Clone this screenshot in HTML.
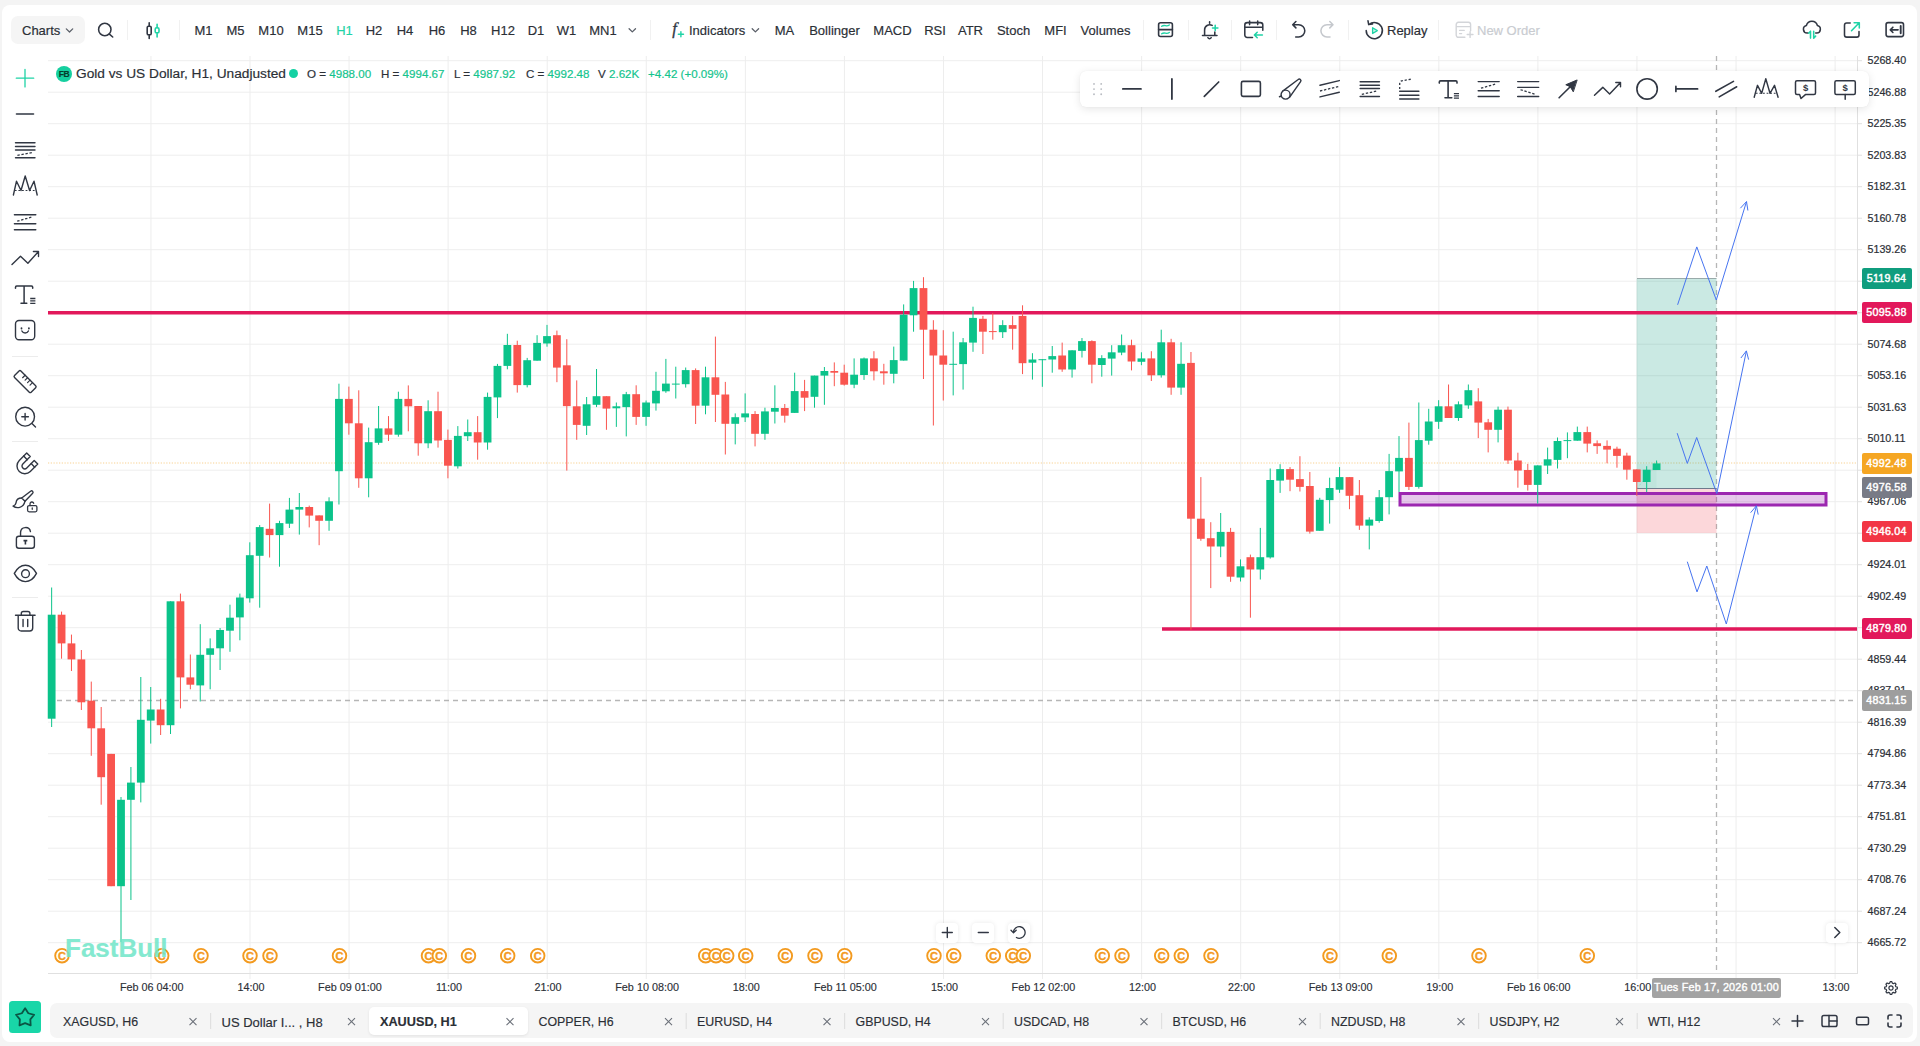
<!DOCTYPE html>
<html lang="en"><head><meta charset="utf-8"><title>Gold vs US Dollar, H1 - Charts</title>
<style>
html,body{margin:0;padding:0}
body{width:1920px;height:1046px;overflow:hidden;position:relative;background:#f4f4f4;font-family:"Liberation Sans",sans-serif;color:#2b2f36}
#app{position:absolute;left:1.7px;top:4.7px;width:1915.3px;height:1037.1px;background:#fff;border-radius:8px}
.t{position:absolute;white-space:nowrap;line-height:1;-webkit-text-stroke:.18px}
.c{transform:translateX(-50%)}
.tf{font-size:13px;top:24px;color:#2b2f36}
.sep{position:absolute;width:1px;background:#f1f1f1;top:20px;height:19.5px}
.ax{-webkit-text-stroke:.2px;position:absolute;left:1867.5px;font-size:10.7px;line-height:1;color:#2b2f36;white-space:nowrap}
.tag{position:absolute;left:1861.5px;width:50px;height:21px;border-radius:2px;color:#fff;font-size:10.7px;line-height:21px;text-align:center;font-weight:normal;-webkit-text-stroke:.45px #fff;letter-spacing:.25px}
.tm{-webkit-text-stroke:.15px;position:absolute;top:981.7px;font-size:10.8px;line-height:1;color:#2b2f36;white-space:nowrap;transform:translateX(-50%)}
.tab{-webkit-text-stroke:.15px;position:absolute;top:1015.7px;font-size:13px;line-height:1;color:#2b2f36;white-space:nowrap}
.btn{position:absolute;width:22px;height:20px;background:#fff;border-radius:4px;box-shadow:0 0 5px rgba(0,0,0,.09)}
svg{position:absolute;left:0;top:0;overflow:visible}
</style></head><body>
<div id="app"></div>

<svg id="chart" width="1920" height="1046" viewBox="0 0 1920 1046">
<path d="M48 60.70H1857M48 92.20H1857M48 123.70H1857M48 155.20H1857M48 186.70H1857M48 218.20H1857M48 249.70H1857M48 281.20H1857M48 312.70H1857M48 344.20H1857M48 375.70H1857M48 407.20H1857M48 438.70H1857M48 470.20H1857M48 501.70H1857M48 533.20H1857M48 564.70H1857M48 596.20H1857M48 627.70H1857M48 659.20H1857M48 690.70H1857M48 722.20H1857M48 753.70H1857M48 785.20H1857M48 816.70H1857M48 848.20H1857M48 879.70H1857M48 911.20H1857M48 942.70H1857" stroke="#eeeeee" stroke-width="1" fill="none"/>
<path d="M150.93 56V979M250.00 56V979M349.07 56V979M448.14 56V979M547.21 56V979M646.28 56V979M745.35 56V979M844.42 56V979M943.49 56V979M1042.56 56V979M1141.63 56V979M1240.70 56V979M1339.77 56V979M1438.84 56V979M1537.91 56V979M1636.98 56V979M1736.05 56V979M1835.12 56V979" stroke="#ededed" stroke-width="1" fill="none"/>
<path d="M48 973.5H1858M1857.5 56V973" stroke="#e0e0e0" stroke-width="1" fill="none"/>
<path d="M1858 60.70h4M1858 92.20h4M1858 123.70h4M1858 155.20h4M1858 186.70h4M1858 218.20h4M1858 249.70h4M1858 281.20h4M1858 312.70h4M1858 344.20h4M1858 375.70h4M1858 407.20h4M1858 438.70h4M1858 470.20h4M1858 501.70h4M1858 533.20h4M1858 564.70h4M1858 596.20h4M1858 627.70h4M1858 659.20h4M1858 690.70h4M1858 722.20h4M1858 753.70h4M1858 785.20h4M1858 816.70h4M1858 848.20h4M1858 879.70h4M1858 911.20h4M1858 942.70h4" stroke="#e0e0e0" stroke-width="1" fill="none"/>
<path d="M48 463H1857" stroke="#f5a623" stroke-width="1.2" stroke-dasharray="1.2 1.55" fill="none" opacity=".5"/>
<path d="M48 700.5H1857" stroke="#b6b6b6" stroke-width="1.3" stroke-dasharray="5 4" fill="none"/>
<path d="M1716.5 56V973" stroke="#b6b6b6" stroke-width="1.3" stroke-dasharray="5 4" fill="none"/>
<rect x="1636.7" y="278.5" width="79.8" height="210" fill="#0f9d7e" fill-opacity=".22"/>
<rect x="1636.7" y="488.5" width="79.8" height="44.5" fill="#f23645" fill-opacity=".2"/>
<rect x="1637" y="464" width="19.5" height="24.5" fill="#0f9d7e" fill-opacity=".05"/>
<path d="M1637 278.5H1716.5" stroke="#9aa" stroke-width="1" fill="none"/>
<path d="M1637 488.5H1716.5" stroke="#6d7a8c" stroke-width="1" fill="none"/>
<path d="M1637 488.5L1656.5 464" stroke="#8cc" stroke-width="1" fill="none" stroke-dasharray="2 2" opacity=".6"/>
<path d="M48 312.7H1857" stroke="#e2185b" stroke-width="3.6" fill="none"/>
<path d="M1162 629H1857" stroke="#e2185b" stroke-width="3.6" fill="none"/>
<rect x="1400" y="493.5" width="426" height="11.5" fill="#9c27b0" fill-opacity=".25" stroke="#9c27b0" stroke-width="3"/>
<path d="M51.65 587.5V727.0M121.00 797.0V942.0M130.91 767.0V900.0M140.81 677.0V802.4M150.72 687.0V743.6M170.53 601.3V734.0M200.25 624.2V701.5M210.16 638.4V689.3M220.07 628.0V670.0M229.98 604.7V651.8M239.88 593.6V640.3M249.79 542.3V602.6M259.70 525.1V607.7M279.51 520.8V566.7M289.42 497.9V528.0M299.32 493.0V534.6M329.05 497.3V530.8M338.95 383.7V504.5M368.67 427.6V497.3M378.58 406.0V444.8M398.39 391.7V436.7M428.12 400.3V448.2M457.84 426.1V468.6M467.74 419.5V441.0M487.56 392.6V449.7M497.46 363.9V418.1M507.37 333.8V369.3M527.19 357.9V387.4M537.09 335.2V360.7M547.00 324.9V346.7M586.63 397.0V435.0M596.53 369.0V407.1M616.35 402.5V426.9M626.26 391.9V436.4M646.07 400.5V425.8M655.98 371.8V410.6M665.88 358.9V392.8M675.79 366.7V398.5M685.70 367.5V387.6M705.51 366.7V414.3M735.23 413.4V444.4M745.14 393.4V422.0M764.95 407.7V439.8M774.86 385.3V423.5M794.67 372.7V412.9M814.49 375.6V407.7M824.40 367.0V404.8M854.12 358.4V388.2M864.02 357.5V379.9M893.75 346.6V383.3M903.65 304.4V360.6M913.56 280.9V331.7M953.19 331.7V395.4M963.09 338.0V389.6M973.00 306.7V351.8M1002.72 320.2V338.0M1032.44 353.2V379.6M1042.35 359.2V386.8M1052.26 346.0V372.7M1072.07 350.3V377.6M1081.98 338.0V357.5M1101.79 355.2V376.7M1111.70 345.2V375.6M1121.61 334.5V355.2M1141.42 352.3V365.2M1161.23 329.7V377.6M1181.05 342.3V394.8M1220.68 513.0V557.2M1240.49 559.4V581.5M1260.30 527.9V579.5M1270.21 468.5V558.6M1280.12 464.2V492.9M1319.75 497.8V530.8M1329.65 477.7V523.6M1339.56 467.1V492.9M1369.28 517.3V549.4M1379.19 490.0V522.7M1389.10 453.9V514.4M1399.00 436.1V492.0M1418.82 402.5V488.6M1428.72 408.8V444.7M1438.63 400.2V428.9M1458.44 401.4V420.9M1468.35 384.5V408.8M1498.07 406.6V442.4M1537.70 465.4V503.5M1547.61 447.6V474.0M1557.51 437.5V468.5M1567.42 432.4V458.2M1577.33 426.6V440.7M1646.68 466.2V492.0M1656.58 460.5V470.0" stroke="#0bc38a" stroke-width="1" fill="none"/>
<path d="M61.56 611.6V658.7M71.46 634.6V671.0M81.37 650.0V710.0M91.28 681.6V755.8M101.19 707.0V804.7M111.09 753.9V886.2M160.63 698.8V735.0M180.44 593.6V708.4M190.35 654.5V689.3M269.60 503.6V557.5M309.23 505.6V527.4M319.14 515.4V545.2M348.86 386.6V434.7M358.77 390.3V487.8M388.49 416.1V441.0M408.30 385.4V431.3M418.21 406.0V455.7M438.02 391.7V447.6M447.93 429.6V478.3M477.65 416.1V459.7M517.28 340.7V392.6M556.91 330.6V382.2M566.81 339.2V470.6M576.72 380.4V439.8M606.44 396.2V429.8M636.16 385.3V424.9M695.61 368.4V424.0M715.42 336.6V422.0M725.33 381.9V454.5M755.05 411.1V446.4M784.77 404.0V422.6M804.58 379.9V411.1M834.30 362.4V386.2M844.21 364.7V385.6M873.93 351.2V380.4M883.84 363.8V384.7M923.47 277.2V379.0M933.37 320.2V425.5M943.28 330.2V400.5M982.91 315.9V354.0M992.81 313.0V339.7M1012.63 315.9V349.7M1022.54 305.3V374.1M1062.16 342.6V371.8M1091.88 340.3V383.3M1131.51 339.7V370.4M1151.33 351.2V381.0M1171.14 338.8V394.8M1190.96 352.0V629.7M1200.86 477.1V540.8M1210.77 522.2V588.1M1230.58 527.9V581.8M1250.40 554.6V617.7M1290.03 467.1V491.2M1299.93 456.2V491.5M1309.84 472.0V533.6M1349.47 477.1V509.2M1359.37 480.0V529.9M1408.91 422.6V490.0M1448.54 384.5V418.0M1478.26 388.2V438.1M1488.17 418.9V452.4M1507.98 406.6V463.9M1517.89 452.7V487.7M1527.79 463.9V490.6M1587.24 426.6V452.4M1597.14 440.4V453.9M1607.05 440.4V463.3M1616.96 446.7V467.7M1626.86 452.7V479.7M1636.77 469.4V495.8" stroke="#f9554f" stroke-width="1" fill="none"/>
<g fill="#0bc38a"><rect x="47.75" y="614.7" width="7.8" height="104.0"/><rect x="117.10" y="799.8" width="7.8" height="86.4"/><rect x="127.01" y="782.6" width="7.8" height="17.2"/><rect x="136.91" y="719.8" width="7.8" height="62.8"/><rect x="146.82" y="709.5" width="7.8" height="11.1"/><rect x="166.63" y="601.3" width="7.8" height="123.9"/><rect x="196.35" y="654.8" width="7.8" height="30.6"/><rect x="206.26" y="648.3" width="7.8" height="6.5"/><rect x="216.17" y="630.0" width="7.8" height="18.3"/><rect x="226.08" y="617.7" width="7.8" height="13.0"/><rect x="235.98" y="597.5" width="7.8" height="19.9"/><rect x="245.89" y="555.2" width="7.8" height="43.1"/><rect x="255.80" y="527.1" width="7.8" height="28.7"/><rect x="275.61" y="523.1" width="7.8" height="12.0"/><rect x="285.52" y="509.6" width="7.8" height="14.1"/><rect x="295.43" y="507.0" width="7.8" height="2.6"/><rect x="325.15" y="501.3" width="7.8" height="19.5"/><rect x="335.05" y="398.9" width="7.8" height="72.3"/><rect x="364.77" y="442.2" width="7.8" height="36.1"/><rect x="374.68" y="428.4" width="7.8" height="14.4"/><rect x="394.50" y="398.9" width="7.8" height="35.8"/><rect x="424.22" y="411.2" width="7.8" height="32.1"/><rect x="453.94" y="435.9" width="7.8" height="30.4"/><rect x="463.84" y="432.2" width="7.8" height="4.0"/><rect x="483.66" y="396.9" width="7.8" height="45.6"/><rect x="493.56" y="365.9" width="7.8" height="31.5"/><rect x="503.47" y="345.0" width="7.8" height="20.9"/><rect x="523.29" y="360.2" width="7.8" height="24.9"/><rect x="533.19" y="342.9" width="7.8" height="17.8"/><rect x="543.10" y="336.1" width="7.8" height="7.4"/><rect x="582.73" y="404.3" width="7.8" height="21.5"/><rect x="592.63" y="396.2" width="7.8" height="8.6"/><rect x="612.45" y="406.3" width="7.8" height="2.0"/><rect x="622.36" y="394.2" width="7.8" height="12.9"/><rect x="642.17" y="402.5" width="7.8" height="14.4"/><rect x="652.08" y="390.8" width="7.8" height="12.6"/><rect x="661.98" y="383.6" width="7.8" height="7.7"/><rect x="671.89" y="383.6" width="7.8" height="1.0"/><rect x="681.80" y="370.1" width="7.8" height="14.1"/><rect x="701.61" y="377.3" width="7.8" height="28.4"/><rect x="731.33" y="417.2" width="7.8" height="6.6"/><rect x="741.24" y="413.4" width="7.8" height="4.0"/><rect x="761.05" y="411.4" width="7.8" height="22.4"/><rect x="770.96" y="408.0" width="7.8" height="3.7"/><rect x="790.77" y="391.1" width="7.8" height="21.8"/><rect x="810.59" y="375.6" width="7.8" height="21.2"/><rect x="820.50" y="371.0" width="7.8" height="4.6"/><rect x="850.22" y="374.7" width="7.8" height="10.0"/><rect x="860.12" y="358.4" width="7.8" height="16.6"/><rect x="889.85" y="360.1" width="7.8" height="13.7"/><rect x="899.75" y="314.7" width="7.8" height="45.9"/><rect x="909.66" y="288.1" width="7.8" height="27.2"/><rect x="949.29" y="363.8" width="7.8" height="1.0"/><rect x="959.19" y="342.3" width="7.8" height="21.8"/><rect x="969.10" y="317.9" width="7.8" height="24.7"/><rect x="998.82" y="325.1" width="7.8" height="7.1"/><rect x="1028.54" y="359.5" width="7.8" height="3.2"/><rect x="1038.45" y="359.2" width="7.8" height="1.0"/><rect x="1048.36" y="356.1" width="7.8" height="3.4"/><rect x="1068.17" y="350.3" width="7.8" height="19.2"/><rect x="1078.08" y="341.1" width="7.8" height="9.8"/><rect x="1097.89" y="358.1" width="7.8" height="6.9"/><rect x="1107.80" y="352.3" width="7.8" height="6.3"/><rect x="1117.71" y="345.2" width="7.8" height="7.4"/><rect x="1137.52" y="358.4" width="7.8" height="3.4"/><rect x="1157.33" y="342.3" width="7.8" height="33.0"/><rect x="1177.15" y="363.8" width="7.8" height="23.8"/><rect x="1216.78" y="531.9" width="7.8" height="14.6"/><rect x="1236.59" y="566.3" width="7.8" height="11.2"/><rect x="1256.40" y="557.2" width="7.8" height="12.3"/><rect x="1266.31" y="480.0" width="7.8" height="77.4"/><rect x="1276.22" y="469.1" width="7.8" height="11.5"/><rect x="1315.85" y="499.8" width="7.8" height="31.0"/><rect x="1325.75" y="488.0" width="7.8" height="12.1"/><rect x="1335.66" y="477.1" width="7.8" height="12.6"/><rect x="1365.38" y="519.6" width="7.8" height="6.0"/><rect x="1375.29" y="497.2" width="7.8" height="23.8"/><rect x="1385.19" y="471.1" width="7.8" height="26.1"/><rect x="1395.10" y="457.9" width="7.8" height="13.5"/><rect x="1414.92" y="440.1" width="7.8" height="46.8"/><rect x="1424.82" y="421.5" width="7.8" height="19.2"/><rect x="1434.73" y="406.3" width="7.8" height="15.5"/><rect x="1454.54" y="404.3" width="7.8" height="13.7"/><rect x="1464.45" y="390.2" width="7.8" height="15.2"/><rect x="1494.17" y="409.7" width="7.8" height="20.1"/><rect x="1533.80" y="465.4" width="7.8" height="19.5"/><rect x="1543.71" y="459.3" width="7.8" height="6.3"/><rect x="1553.61" y="441.0" width="7.8" height="18.9"/><rect x="1563.52" y="440.1" width="7.8" height="1.0"/><rect x="1573.43" y="432.1" width="7.8" height="8.6"/><rect x="1642.78" y="469.7" width="7.8" height="12.3"/><rect x="1652.68" y="463.4" width="7.8" height="6.6"/></g>
<g fill="#f9554f"><rect x="57.66" y="614.7" width="7.8" height="28.7"/><rect x="67.56" y="643.4" width="7.8" height="16.0"/><rect x="77.47" y="659.4" width="7.8" height="42.9"/><rect x="87.38" y="700.7" width="7.8" height="27.6"/><rect x="97.28" y="728.3" width="7.8" height="48.9"/><rect x="107.19" y="753.9" width="7.8" height="132.3"/><rect x="156.73" y="709.5" width="7.8" height="15.7"/><rect x="176.54" y="601.3" width="7.8" height="76.1"/><rect x="186.45" y="677.4" width="7.8" height="7.3"/><rect x="265.70" y="528.8" width="7.8" height="6.3"/><rect x="305.33" y="507.0" width="7.8" height="8.6"/><rect x="315.24" y="515.4" width="7.8" height="5.4"/><rect x="344.96" y="398.9" width="7.8" height="24.4"/><rect x="354.87" y="423.3" width="7.8" height="55.0"/><rect x="384.59" y="428.4" width="7.8" height="6.3"/><rect x="404.40" y="398.9" width="7.8" height="7.4"/><rect x="414.31" y="406.0" width="7.8" height="37.3"/><rect x="434.12" y="411.2" width="7.8" height="29.3"/><rect x="444.03" y="439.9" width="7.8" height="25.8"/><rect x="473.75" y="432.2" width="7.8" height="10.3"/><rect x="513.38" y="345.0" width="7.8" height="40.1"/><rect x="553.01" y="335.2" width="7.8" height="32.4"/><rect x="562.91" y="365.3" width="7.8" height="40.8"/><rect x="572.82" y="406.3" width="7.8" height="18.6"/><rect x="602.54" y="396.2" width="7.8" height="12.4"/><rect x="632.26" y="394.2" width="7.8" height="22.7"/><rect x="691.71" y="370.1" width="7.8" height="35.6"/><rect x="711.52" y="377.3" width="7.8" height="17.5"/><rect x="721.43" y="394.5" width="7.8" height="29.3"/><rect x="751.15" y="414.0" width="7.8" height="19.8"/><rect x="780.87" y="408.0" width="7.8" height="7.7"/><rect x="800.68" y="391.1" width="7.8" height="6.6"/><rect x="830.40" y="371.0" width="7.8" height="1.7"/><rect x="840.31" y="372.7" width="7.8" height="12.0"/><rect x="870.03" y="358.4" width="7.8" height="12.9"/><rect x="879.94" y="371.3" width="7.8" height="2.0"/><rect x="919.57" y="288.1" width="7.8" height="41.6"/><rect x="929.47" y="329.7" width="7.8" height="25.8"/><rect x="939.38" y="355.5" width="7.8" height="9.2"/><rect x="979.01" y="318.8" width="7.8" height="12.9"/><rect x="988.91" y="331.1" width="7.8" height="1.0"/><rect x="1008.73" y="325.1" width="7.8" height="3.7"/><rect x="1018.64" y="315.9" width="7.8" height="47.3"/><rect x="1058.26" y="355.5" width="7.8" height="14.0"/><rect x="1087.98" y="341.1" width="7.8" height="23.6"/><rect x="1127.61" y="345.2" width="7.8" height="16.3"/><rect x="1147.43" y="358.4" width="7.8" height="16.9"/><rect x="1167.24" y="342.3" width="7.8" height="45.3"/><rect x="1187.06" y="362.9" width="7.8" height="155.8"/><rect x="1196.96" y="518.7" width="7.8" height="20.1"/><rect x="1206.87" y="538.2" width="7.8" height="8.3"/><rect x="1226.68" y="531.9" width="7.8" height="44.8"/><rect x="1246.50" y="557.2" width="7.8" height="12.3"/><rect x="1286.12" y="469.1" width="7.8" height="10.6"/><rect x="1296.03" y="479.1" width="7.8" height="7.8"/><rect x="1305.94" y="486.0" width="7.8" height="45.6"/><rect x="1345.57" y="477.1" width="7.8" height="18.7"/><rect x="1355.47" y="495.2" width="7.8" height="30.4"/><rect x="1405.01" y="457.9" width="7.8" height="29.0"/><rect x="1444.64" y="406.3" width="7.8" height="11.7"/><rect x="1474.36" y="401.4" width="7.8" height="21.2"/><rect x="1484.27" y="422.3" width="7.8" height="7.5"/><rect x="1504.08" y="409.7" width="7.8" height="50.8"/><rect x="1513.99" y="460.5" width="7.8" height="10.0"/><rect x="1523.89" y="470.0" width="7.8" height="14.9"/><rect x="1583.34" y="432.1" width="7.8" height="11.5"/><rect x="1593.24" y="443.3" width="7.8" height="2.8"/><rect x="1603.15" y="445.9" width="7.8" height="3.7"/><rect x="1613.06" y="448.7" width="7.8" height="7.2"/><rect x="1622.96" y="455.6" width="7.8" height="14.1"/><rect x="1632.87" y="469.4" width="7.8" height="12.6"/></g>
<path d="M1677.6 304.8L1696.8 246.9L1716.3 300.0L1746.5 201.6M1746.5 201.6L1740.4 208.2M1746.5 201.6L1747.9 210.5" stroke="#4674f0" stroke-width="1" fill="none" stroke-linejoin="round"/>
<path d="M1677.2 433.2L1687.3 463.4L1696.7 437.5L1716.8 493.5L1746.4 350.9M1746.4 350.9L1740.9 358.0M1746.4 350.9L1748.6 359.6" stroke="#4674f0" stroke-width="1" fill="none" stroke-linejoin="round"/>
<path d="M1687.3 561.7L1697.0 591.9L1706.8 566.0L1726.3 624.0L1756.4 505.8M1756.4 505.8L1750.6 512.7M1756.4 505.8L1758.2 514.6" stroke="#4674f0" stroke-width="1" fill="none" stroke-linejoin="round"/>
<circle cx="62.0" cy="955.7" r="6.8" fill="#fff" stroke="#f39a1f" stroke-width="1.9"/>
<text x="62.0" y="959.6" font-size="11" font-weight="bold" fill="#f39a1f" stroke="#f39a1f" stroke-width=".4" text-anchor="middle" font-family="Liberation Sans, sans-serif">C</text>
<circle cx="161.7" cy="955.7" r="6.8" fill="#fff" stroke="#f39a1f" stroke-width="1.9"/>
<text x="161.7" y="959.6" font-size="11" font-weight="bold" fill="#f39a1f" stroke="#f39a1f" stroke-width=".4" text-anchor="middle" font-family="Liberation Sans, sans-serif">C</text>
<circle cx="201.0" cy="955.7" r="6.8" fill="#fff" stroke="#f39a1f" stroke-width="1.9"/>
<text x="201.0" y="959.6" font-size="11" font-weight="bold" fill="#f39a1f" stroke="#f39a1f" stroke-width=".4" text-anchor="middle" font-family="Liberation Sans, sans-serif">C</text>
<circle cx="250.0" cy="955.7" r="6.8" fill="#fff" stroke="#f39a1f" stroke-width="1.9"/>
<text x="250.0" y="959.6" font-size="11" font-weight="bold" fill="#f39a1f" stroke="#f39a1f" stroke-width=".4" text-anchor="middle" font-family="Liberation Sans, sans-serif">C</text>
<circle cx="270.0" cy="955.7" r="6.8" fill="#fff" stroke="#f39a1f" stroke-width="1.9"/>
<text x="270.0" y="959.6" font-size="11" font-weight="bold" fill="#f39a1f" stroke="#f39a1f" stroke-width=".4" text-anchor="middle" font-family="Liberation Sans, sans-serif">C</text>
<circle cx="339.5" cy="955.7" r="6.8" fill="#fff" stroke="#f39a1f" stroke-width="1.9"/>
<text x="339.5" y="959.6" font-size="11" font-weight="bold" fill="#f39a1f" stroke="#f39a1f" stroke-width=".4" text-anchor="middle" font-family="Liberation Sans, sans-serif">C</text>
<circle cx="428.5" cy="955.7" r="6.8" fill="#fff" stroke="#f39a1f" stroke-width="1.9"/>
<text x="428.5" y="959.6" font-size="11" font-weight="bold" fill="#f39a1f" stroke="#f39a1f" stroke-width=".4" text-anchor="middle" font-family="Liberation Sans, sans-serif">C</text>
<circle cx="439.3" cy="955.7" r="6.8" fill="#fff" stroke="#f39a1f" stroke-width="1.9"/>
<text x="439.3" y="959.6" font-size="11" font-weight="bold" fill="#f39a1f" stroke="#f39a1f" stroke-width=".4" text-anchor="middle" font-family="Liberation Sans, sans-serif">C</text>
<circle cx="468.5" cy="955.7" r="6.8" fill="#fff" stroke="#f39a1f" stroke-width="1.9"/>
<text x="468.5" y="959.6" font-size="11" font-weight="bold" fill="#f39a1f" stroke="#f39a1f" stroke-width=".4" text-anchor="middle" font-family="Liberation Sans, sans-serif">C</text>
<circle cx="507.7" cy="955.7" r="6.8" fill="#fff" stroke="#f39a1f" stroke-width="1.9"/>
<text x="507.7" y="959.6" font-size="11" font-weight="bold" fill="#f39a1f" stroke="#f39a1f" stroke-width=".4" text-anchor="middle" font-family="Liberation Sans, sans-serif">C</text>
<circle cx="537.7" cy="955.7" r="6.8" fill="#fff" stroke="#f39a1f" stroke-width="1.9"/>
<text x="537.7" y="959.6" font-size="11" font-weight="bold" fill="#f39a1f" stroke="#f39a1f" stroke-width=".4" text-anchor="middle" font-family="Liberation Sans, sans-serif">C</text>
<circle cx="705.7" cy="955.7" r="6.8" fill="#fff" stroke="#f39a1f" stroke-width="1.9"/>
<text x="705.7" y="959.6" font-size="11" font-weight="bold" fill="#f39a1f" stroke="#f39a1f" stroke-width=".4" text-anchor="middle" font-family="Liberation Sans, sans-serif">C</text>
<circle cx="716.0" cy="955.7" r="6.8" fill="#fff" stroke="#f39a1f" stroke-width="1.9"/>
<text x="716.0" y="959.6" font-size="11" font-weight="bold" fill="#f39a1f" stroke="#f39a1f" stroke-width=".4" text-anchor="middle" font-family="Liberation Sans, sans-serif">C</text>
<circle cx="726.7" cy="955.7" r="6.8" fill="#fff" stroke="#f39a1f" stroke-width="1.9"/>
<text x="726.7" y="959.6" font-size="11" font-weight="bold" fill="#f39a1f" stroke="#f39a1f" stroke-width=".4" text-anchor="middle" font-family="Liberation Sans, sans-serif">C</text>
<circle cx="745.7" cy="955.7" r="6.8" fill="#fff" stroke="#f39a1f" stroke-width="1.9"/>
<text x="745.7" y="959.6" font-size="11" font-weight="bold" fill="#f39a1f" stroke="#f39a1f" stroke-width=".4" text-anchor="middle" font-family="Liberation Sans, sans-serif">C</text>
<circle cx="785.3" cy="955.7" r="6.8" fill="#fff" stroke="#f39a1f" stroke-width="1.9"/>
<text x="785.3" y="959.6" font-size="11" font-weight="bold" fill="#f39a1f" stroke="#f39a1f" stroke-width=".4" text-anchor="middle" font-family="Liberation Sans, sans-serif">C</text>
<circle cx="815.0" cy="955.7" r="6.8" fill="#fff" stroke="#f39a1f" stroke-width="1.9"/>
<text x="815.0" y="959.6" font-size="11" font-weight="bold" fill="#f39a1f" stroke="#f39a1f" stroke-width=".4" text-anchor="middle" font-family="Liberation Sans, sans-serif">C</text>
<circle cx="844.7" cy="955.7" r="6.8" fill="#fff" stroke="#f39a1f" stroke-width="1.9"/>
<text x="844.7" y="959.6" font-size="11" font-weight="bold" fill="#f39a1f" stroke="#f39a1f" stroke-width=".4" text-anchor="middle" font-family="Liberation Sans, sans-serif">C</text>
<circle cx="934.0" cy="955.7" r="6.8" fill="#fff" stroke="#f39a1f" stroke-width="1.9"/>
<text x="934.0" y="959.6" font-size="11" font-weight="bold" fill="#f39a1f" stroke="#f39a1f" stroke-width=".4" text-anchor="middle" font-family="Liberation Sans, sans-serif">C</text>
<circle cx="953.7" cy="955.7" r="6.8" fill="#fff" stroke="#f39a1f" stroke-width="1.9"/>
<text x="953.7" y="959.6" font-size="11" font-weight="bold" fill="#f39a1f" stroke="#f39a1f" stroke-width=".4" text-anchor="middle" font-family="Liberation Sans, sans-serif">C</text>
<circle cx="993.3" cy="955.7" r="6.8" fill="#fff" stroke="#f39a1f" stroke-width="1.9"/>
<text x="993.3" y="959.6" font-size="11" font-weight="bold" fill="#f39a1f" stroke="#f39a1f" stroke-width=".4" text-anchor="middle" font-family="Liberation Sans, sans-serif">C</text>
<circle cx="1012.7" cy="955.7" r="6.8" fill="#fff" stroke="#f39a1f" stroke-width="1.9"/>
<text x="1012.7" y="959.6" font-size="11" font-weight="bold" fill="#f39a1f" stroke="#f39a1f" stroke-width=".4" text-anchor="middle" font-family="Liberation Sans, sans-serif">C</text>
<circle cx="1023.3" cy="955.7" r="6.8" fill="#fff" stroke="#f39a1f" stroke-width="1.9"/>
<text x="1023.3" y="959.6" font-size="11" font-weight="bold" fill="#f39a1f" stroke="#f39a1f" stroke-width=".4" text-anchor="middle" font-family="Liberation Sans, sans-serif">C</text>
<circle cx="1102.3" cy="955.7" r="6.8" fill="#fff" stroke="#f39a1f" stroke-width="1.9"/>
<text x="1102.3" y="959.6" font-size="11" font-weight="bold" fill="#f39a1f" stroke="#f39a1f" stroke-width=".4" text-anchor="middle" font-family="Liberation Sans, sans-serif">C</text>
<circle cx="1122.0" cy="955.7" r="6.8" fill="#fff" stroke="#f39a1f" stroke-width="1.9"/>
<text x="1122.0" y="959.6" font-size="11" font-weight="bold" fill="#f39a1f" stroke="#f39a1f" stroke-width=".4" text-anchor="middle" font-family="Liberation Sans, sans-serif">C</text>
<circle cx="1161.7" cy="955.7" r="6.8" fill="#fff" stroke="#f39a1f" stroke-width="1.9"/>
<text x="1161.7" y="959.6" font-size="11" font-weight="bold" fill="#f39a1f" stroke="#f39a1f" stroke-width=".4" text-anchor="middle" font-family="Liberation Sans, sans-serif">C</text>
<circle cx="1181.3" cy="955.7" r="6.8" fill="#fff" stroke="#f39a1f" stroke-width="1.9"/>
<text x="1181.3" y="959.6" font-size="11" font-weight="bold" fill="#f39a1f" stroke="#f39a1f" stroke-width=".4" text-anchor="middle" font-family="Liberation Sans, sans-serif">C</text>
<circle cx="1211.0" cy="955.7" r="6.8" fill="#fff" stroke="#f39a1f" stroke-width="1.9"/>
<text x="1211.0" y="959.6" font-size="11" font-weight="bold" fill="#f39a1f" stroke="#f39a1f" stroke-width=".4" text-anchor="middle" font-family="Liberation Sans, sans-serif">C</text>
<circle cx="1330.0" cy="955.7" r="6.8" fill="#fff" stroke="#f39a1f" stroke-width="1.9"/>
<text x="1330.0" y="959.6" font-size="11" font-weight="bold" fill="#f39a1f" stroke="#f39a1f" stroke-width=".4" text-anchor="middle" font-family="Liberation Sans, sans-serif">C</text>
<circle cx="1389.3" cy="955.7" r="6.8" fill="#fff" stroke="#f39a1f" stroke-width="1.9"/>
<text x="1389.3" y="959.6" font-size="11" font-weight="bold" fill="#f39a1f" stroke="#f39a1f" stroke-width=".4" text-anchor="middle" font-family="Liberation Sans, sans-serif">C</text>
<circle cx="1479.0" cy="955.7" r="6.8" fill="#fff" stroke="#f39a1f" stroke-width="1.9"/>
<text x="1479.0" y="959.6" font-size="11" font-weight="bold" fill="#f39a1f" stroke="#f39a1f" stroke-width=".4" text-anchor="middle" font-family="Liberation Sans, sans-serif">C</text>
<circle cx="1587.3" cy="955.7" r="6.8" fill="#fff" stroke="#f39a1f" stroke-width="1.9"/>
<text x="1587.3" y="959.6" font-size="11" font-weight="bold" fill="#f39a1f" stroke="#f39a1f" stroke-width=".4" text-anchor="middle" font-family="Liberation Sans, sans-serif">C</text>
</svg>
<div class="t" style="left:65px;top:935px;font-size:26px;font-weight:bold;color:#6fe6c8;opacity:.85;letter-spacing:0px">FastBull</div>
<div class="ax" style="top:55.4px">5268.40</div>
<div class="ax" style="top:86.9px">5246.88</div>
<div class="ax" style="top:118.4px">5225.35</div>
<div class="ax" style="top:149.9px">5203.83</div>
<div class="ax" style="top:181.4px">5182.31</div>
<div class="ax" style="top:212.9px">5160.78</div>
<div class="ax" style="top:244.4px">5139.26</div>
<div class="ax" style="top:338.9px">5074.68</div>
<div class="ax" style="top:370.4px">5053.16</div>
<div class="ax" style="top:401.9px">5031.63</div>
<div class="ax" style="top:433.4px">5010.11</div>
<div class="ax" style="top:496.4px">4967.06</div>
<div class="ax" style="top:559.4px">4924.01</div>
<div class="ax" style="top:590.9px">4902.49</div>
<div class="ax" style="top:653.9px">4859.44</div>
<div class="ax" style="top:685.4px">4837.91</div>
<div class="ax" style="top:716.9px">4816.39</div>
<div class="ax" style="top:748.4px">4794.86</div>
<div class="ax" style="top:779.9px">4773.34</div>
<div class="ax" style="top:811.4px">4751.81</div>
<div class="ax" style="top:842.9px">4730.29</div>
<div class="ax" style="top:874.4px">4708.76</div>
<div class="ax" style="top:905.9px">4687.24</div>
<div class="ax" style="top:937.4px">4665.72</div>
<div class="tag" style="top:267.5px;background:#0f9d7e">5119.64</div>
<div class="tag" style="top:302.0px;background:#e2185b">5095.88</div>
<div class="tag" style="top:453.0px;background:#f5a623">4992.48</div>
<div class="tag" style="top:476.5px;background:#787b86">4976.58</div>
<div class="tag" style="top:521.0px;background:#f23645">4946.04</div>
<div class="tag" style="top:618.2px;background:#e2185b">4879.80</div>
<div class="tag" style="top:689.5px;background:#9e9e9e">4831.15</div>
<div class="tm" style="left:151.8px">Feb 06 04:00</div>
<div class="tm" style="left:250.9px">14:00</div>
<div class="tm" style="left:349.9px">Feb 09 01:00</div>
<div class="tm" style="left:449.0px">11:00</div>
<div class="tm" style="left:548.1px">21:00</div>
<div class="tm" style="left:647.1px">Feb 10 08:00</div>
<div class="tm" style="left:746.2px">18:00</div>
<div class="tm" style="left:845.3px">Feb 11 05:00</div>
<div class="tm" style="left:944.4px">15:00</div>
<div class="tm" style="left:1043.4px">Feb 12 02:00</div>
<div class="tm" style="left:1142.5px">12:00</div>
<div class="tm" style="left:1241.6px">22:00</div>
<div class="tm" style="left:1340.6px">Feb 13 09:00</div>
<div class="tm" style="left:1439.7px">19:00</div>
<div class="tm" style="left:1538.8px">Feb 16 06:00</div>
<div class="tm" style="left:1637.8px">16:00</div>
<div class="tm" style="left:1836.0px">13:00</div>
<div style="position:absolute;left:1652px;top:978px;width:129px;height:20px;background:#a3a3a3;border-radius:2px;color:#fff;font-size:10.8px;font-weight:normal;-webkit-text-stroke:.4px #fff;letter-spacing:.2px;line-height:19px;text-align:center;white-space:nowrap">Tues Feb 17, 2026 01:00</div><div style="position:absolute;left:11px;top:16px;width:74px;height:28px;background:#f5f5f5;border-radius:7px"></div>
<svg id="icons" width="1920" height="1046" viewBox="0 0 1920 1046">
<g transform="translate(104.8 29.5)" fill="none" stroke="#313743" stroke-width="1.55" stroke-linecap="round" stroke-linejoin="round"><circle cx="0" cy="0" r="6.200"/><path d="M4.600 4.600L7.900 7.500"/></g>
<g transform="translate(153.0 30.5)" fill="none" stroke="#313743" stroke-width="1.6" stroke-linecap="round" stroke-linejoin="round"><rect x="-5.800" y="-4.300" width="4" height="8.600" rx="1.400"/><path d="M-3.800 -7.800V-4.300M-3.800 4.300V7.900"/><g stroke="#1fd3a6"><rect x="2.200" y="-2.700" width="3.800" height="5" rx="1.400"/><path d="M4.100 -6.200V-2.700M4.100 2.300V6.400"/></g></g>
<path d="M66.3 28.9l3.200 3.100l3.200 -3.100" fill="none" stroke="#5a5f68" stroke-width="1.300" stroke-linecap="round" stroke-linejoin="round"/>
<path d="M629.1 28.8l3.200 3.100l3.200 -3.100" fill="none" stroke="#5a5f68" stroke-width="1.300" stroke-linecap="round" stroke-linejoin="round"/>
<path d="M752.2 28.8l3.200 3.100l3.200 -3.100" fill="none" stroke="#5a5f68" stroke-width="1.300" stroke-linecap="round" stroke-linejoin="round"/>
<text x="672.3" y="33.6" font-family="Liberation Serif, serif" font-style="italic" font-size="16.500" fill="#313743" stroke="#313743" stroke-width=".350">f</text>
<g transform="translate(680.9 34.2)" fill="none" stroke="#1fd3a6" stroke-width="1.4" stroke-linecap="round" stroke-linejoin="round"><path d="M-2.600 0H2.600M0 -2.600V2.600"/></g>
<g transform="translate(1165.5 29.6)" fill="none" stroke="#313743" stroke-width="1.6" stroke-linecap="round" stroke-linejoin="round"><rect x="-6.900" y="-6.900" width="13.800" height="13.800" rx="2"/><path d="M-6.900 0H6.900"/><g stroke="#1fd3a6" stroke-width="1.400"><path d="M-3.800 -3.300c1.600-1.200 2.400-1 3.800-.600s2.400 .400 3.800-.700M-3.800 4.200c1.600-1.200 2.400-1 3.800-.600s2.400 .400 3.800-.700"/></g></g>
<g transform="translate(1209.6 29.5)" fill="none" stroke="#313743" stroke-width="1.55" stroke-linecap="round" stroke-linejoin="round"><path d="M-7.100 6H7.400M-5 6V0.500a5.100 5.100 0 0 1 7.600 -4.600M5.200 2.600V6M-1.700 8.200a1.900 1.900 0 0 0 3.300 0M0 -6.200v-1.600"/><g stroke="#1fd3a6"><path d="M2.900 -1.600H8.300M5.600 -4.300V1.100"/></g></g>
<g transform="translate(1253.8 30.0)" fill="none" stroke="#313743" stroke-width="1.55" stroke-linecap="round" stroke-linejoin="round"><path d="M-1.300 7.500H-6.600a2.400 2.400 0 0 1-2.400-2.400V-5A2.400 2.400 0 0 1-6.600-7.400H6.600A2.400 2.400 0 0 1 9-5V0.300M-9 -2.800H9M-4.200 -9.100V-5.400M3.900 -9.100V-5.400"/><g stroke="#1fd3a6"><path d="M8.600 5H0.600M3.400 2.200L0.600 5L3.400 7.800"/></g></g>
<g transform="translate(1298.7 30.8)" fill="none" stroke="#313743" stroke-width="1.55" stroke-linecap="round" stroke-linejoin="round"><path d="M-5.600 -6.100H0a6.100 6.100 0 0 1 0 12.200H-3M-2.800 -9.300L-6 -6.100L-2.800 -2.900"/></g>
<g transform="translate(1327.0 30.8)" fill="none" stroke="#c5c8cd" stroke-width="1.55" stroke-linecap="round" stroke-linejoin="round"><path d="M5.600 -6.100H0a6.100 6.100 0 0 0 0 12.200H3M2.800 -9.300L6 -6.100L2.800 -2.900"/></g>
<g transform="translate(1374.3 30.6)" fill="none" stroke="#313743" stroke-width="1.55" stroke-linecap="round" stroke-linejoin="round"><path d="M-5.300 -6.100A8.100 8.100 0 1 1 -8.100 0M-6.300 -9.800L-5.600 -6L-1.800 -6.600"/><path d="M-1.700 -2.900L3 0L-1.700 2.900Z" stroke="#1fd3a6" fill="#1fd3a6" fill-opacity=".25" stroke-width="1.300"/></g>
<g transform="translate(1463.4 29.8)" fill="none" stroke="#d3d5d9" stroke-width="1.4" stroke-linecap="round" stroke-linejoin="round"><path d="M1.500 7.500H-5a2.200 2.200 0 0 1-2.200-2.200V-5.300a2.200 2.200 0 0 1 2.200-2.200H5a2.200 2.200 0 0 1 2.200 2.200V1M-7.200 -3.200H7.200M-3.800 0.600H0.800M-3.800 3.800H-1.800"/><path d="M3.800 4.700H9.600M6.700 1.800V7.600"/></g>
<g transform="translate(1811.9 29.5)" fill="none" stroke="#313743" stroke-width="1.55" stroke-linecap="round" stroke-linejoin="round"><path d="M-3.800 3.500H-4.800a3.800 3.800 0 0 1-.700-7.500 5.700 5.700 0 0 1 11 0 3.800 3.800 0 0 1-.700 7.500H3.800"/><g stroke="#1fd3a6"><path d="M-1.400 8.600V1.800M-1.400 1.800L-3.300 3.800M1.800 1.800V8.600M1.800 8.600L3.700 6.600"/></g></g>
<g transform="translate(1851.7 30.0)" fill="none" stroke="#313743" stroke-width="1.55" stroke-linecap="round" stroke-linejoin="round"><path d="M-1.500 -7H-5a2.200 2.200 0 0 0-2.200 2.200V4.900A2.200 2.200 0 0 0-5 7.100H5.100A2.200 2.200 0 0 0 7.300 4.900V1.500"/><g stroke="#1fd3a6"><path d="M-0.200 0.800L7.300 -7M2.400 -7.300H7.600V-2.100"/></g></g>
<g transform="translate(1894.8 29.6)" fill="none" stroke="#313743" stroke-width="1.6" stroke-linecap="round" stroke-linejoin="round"><rect x="-8.700" y="-7" width="17.400" height="14" rx="2"/><path d="M5.900 -3.700V3.700" stroke-width="1.900"/><path d="M3.300 0.250H-4.500M-1.900 -2.400L-4.500 0.250L-1.900 2.900"/></g>
<g transform="translate(25.0 78.2)" fill="none" stroke="#1fd3a6" stroke-width="1.3" stroke-linecap="round" stroke-linejoin="round"><path d="M-8.700 0H8.700M0 -8.700V8.700"/></g>
<g transform="translate(25.0 114.0)" fill="none" stroke="#313743" stroke-width="1.6" stroke-linecap="round" stroke-linejoin="round"><path d="M-8.5 0H8.5"/></g>
<g transform="translate(25.2 150.0)" fill="none" stroke="#313743" stroke-width="1.4" stroke-linecap="round" stroke-linejoin="round"><path d="M-9.7 -7.3H9.8M-9.7 -3.5H9.8M-9.7 0H9.8M-9.7 7.8H9.8"/><path d="M-7.8 5.4L8 2.3" stroke-dasharray="2.4 1.7" stroke-width="1.3" stroke-linecap="butt"/></g>
<g transform="translate(25.2 186.0)" fill="none" stroke="#313743" stroke-width="1.4" stroke-linecap="round" stroke-linejoin="round"><path d="M-11.8 9L-8.7 -4.8L-4.2 4.5L0 -10L4.4 4.5L8.8 -4.8L12 9"/><path d="M-10.4 4.5H10.6" stroke-dasharray="1.8 1.8" stroke-width="1.1" stroke-linecap="butt"/></g>
<g transform="translate(25.1 222.0)" fill="none" stroke="#313743" stroke-width="1.4" stroke-linecap="round" stroke-linejoin="round"><path d="M-10.7 -7.3H10.7M-10.7 1.8H10.7M-10.7 7.8H10.7"/><path d="M-7.9 -0.8L7.9 -5.3" stroke-dasharray="2.4 1.7" stroke-width="1.3" stroke-linecap="butt"/></g>
<g transform="translate(25.0 258.5)" fill="none" stroke="#313743" stroke-width="1.4" stroke-linecap="round" stroke-linejoin="round"><path d="M-13 6.1L-4.5 -2.3L2.9 4.8L13.3 -6.8M8.4 -7H13.5V-1.9"/></g>
<g transform="translate(25.0 294.5)" fill="none" stroke="#313743" stroke-width="1.5" stroke-linecap="round" stroke-linejoin="round"><path d="M-9.5 -6.3V-7.3a1.2 1.2 0 0 1 1.2 -1.2H6.5a1.2 1.2 0 0 1 1.2 1.2V-6.3M-0.9 -8.5V8.7M-4 8.7H1.8"/><path d="M5.2 4H10.4M5.2 6.4H10.4M5.2 8.8H10.4" stroke-width="1.3" stroke-linecap="butt"/></g>
<g transform="translate(25.1 330.1)" fill="none" stroke="#313743" stroke-width="1.4" stroke-linecap="round" stroke-linejoin="round"><rect x="-9.6" y="-9.6" width="19.2" height="19.2" rx="3.5"/><path d="M-3.6 -1.9V-1.5M3.8 -1.9V-1.5" stroke-width="1.8"/><path d="M-3.2 0.9a3.6 3.6 0 0 0 6.5 0"/></g>
<path d="M12 356.5H38M12 441.5H38M12 597.5H38" stroke="#ececec" stroke-width="1"/>
<g transform="translate(25.1 381.6)" fill="none" stroke="#313743" stroke-width="1.4" stroke-linecap="round" stroke-linejoin="round"><g transform="rotate(45)"><rect x="-11.75" y="-4.5" width="23.5" height="9" rx="1.3"/><path d="M-4.5 -4.5V-1M-1 -4.5V-1M2.5 -4.5V-1M6 -4.5V-1" stroke-width="1.2"/></g></g>
<g transform="translate(25.1 416.7)" fill="none" stroke="#313743" stroke-width="1.4" stroke-linecap="round" stroke-linejoin="round"><circle cx="0" cy="0" r="9.4"/><path d="M-3.3 0H3.3M0 -3.3V3.3M7.1 7.1L10.4 10.3"/></g>
<g transform="translate(25.5 465.3)" fill="none" stroke="#313743" stroke-width="1.4" stroke-linecap="round" stroke-linejoin="round"><g transform="rotate(45)"><path d="M-7.800 -9.500V1a7.800 7.800 0 0 0 15.600 0V-9.500H2.800V1a2.800 2.800 0 0 1-5.600 0V-9.500Z"/><path d="M-7.800 -5.200H-2.800M2.800 -5.200H7.800"/></g></g>
<g transform="translate(25.0 501.0)" fill="none" stroke="#313743" stroke-width="1.4" stroke-linecap="round" stroke-linejoin="round"><path d="M5.6 -9.8c1.3-1.2 3.2 .5 2.1 2L0 0.2L-3.3 -3Z"/><path d="M-3.3 -3c-3.4 0-5.400 2.200-5.700 4.800-.2 1.500-1.300 2.700-2.900 3.300 3.400 2.600 10.300 2.400 11.900-4.900"/><rect x="2.600" y="4.600" width="9.300" height="6.200" rx="1.500" stroke-width="1.300"/><path d="M5 4.600V2.800a1.900 1.900 0 0 1 3.700 -0.500" stroke-width="1.300"/><path d="M7.250 7V8.300" stroke-width="1.300"/></g>
<g transform="translate(25.4 538.0)" fill="none" stroke="#313743" stroke-width="1.4" stroke-linecap="round" stroke-linejoin="round"><rect x="-9" y="-1.800" width="18" height="12" rx="2.500"/><path d="M-4.850 -1.800V-5.600a5 5 0 0 1 9.900 -0.800"/><path d="M-1.900 2.600H1.900M0 2.600V6.400" stroke-width="1.600" stroke-linecap="butt"/></g>
<g transform="translate(25.4 573.4)" fill="none" stroke="#313743" stroke-width="1.4" stroke-linecap="round" stroke-linejoin="round"><path d="M-11.1 0C-8 -5.900-4 -8.200 0 -8.200S8 -5.900 11.1 0C8 5.900 4 8.200 0 8.200S-8 5.900-11.1 0Z"/><circle cx="0.100" cy="0.300" r="3.900"/></g>
<g transform="translate(25.3 621.0)" fill="none" stroke="#313743" stroke-width="1.4" stroke-linecap="round" stroke-linejoin="round"><path d="M-9.800 -5.700H9.800M-4 -5.700V-7.500a2 2 0 0 1 2-2H2.600a2 2 0 0 1 2 2V-5.700M-7.100 -5.700V7a3 3 0 0 0 3 3H4.400a3 3 0 0 0 3-3V-5.700M-2.250 -1.600V5.600M2.400 -1.600V5.600"/></g>
</svg>
<div style="position:absolute;left:1080px;top:71px;width:788.5px;height:36px;background:#fff;border-radius:6px;box-shadow:0 2px 8px rgba(0,0,0,.10),0 0 1px rgba(0,0,0,.08)"></div>
<svg id="ficons" width="1920" height="1046" viewBox="0 0 1920 1046">
<g fill="#b9bcc2"><circle cx="1094.0" cy="83.9" r="0.95"/><circle cx="1094.0" cy="89.1" r="0.95"/><circle cx="1094.0" cy="94.3" r="0.95"/><circle cx="1101.2" cy="83.9" r="0.95"/><circle cx="1101.2" cy="89.1" r="0.95"/><circle cx="1101.2" cy="94.3" r="0.95"/></g>
<g transform="translate(1131.9 88.9)" fill="none" stroke="#313743" stroke-width="1.9" stroke-linecap="round" stroke-linejoin="round"><path d="M-9 0H9"/></g>
<g transform="translate(1171.9 89.0)" fill="none" stroke="#313743" stroke-width="1.8" stroke-linecap="round" stroke-linejoin="round"><path d="M0 -10.1V10.1"/></g>
<g transform="translate(1211.5 89.2)" fill="none" stroke="#313743" stroke-width="1.7" stroke-linecap="round" stroke-linejoin="round"><path d="M-7.2 7.2L7.2 -7.2"/></g>
<g transform="translate(1250.9 88.9)" fill="none" stroke="#313743" stroke-width="1.6" stroke-linecap="round" stroke-linejoin="round"><rect x="-9.5" y="-7.5" width="19" height="15" rx="1.6"/></g>
<g transform="translate(1290.3 89.0)" fill="none" stroke="#313743" stroke-width="1.45" stroke-linecap="round" stroke-linejoin="round"><path d="M-7.6 2.100L7.900 -9.500a1.600 1.600 0 0 1 2.400 2.100L-0.800 8.300"/><circle cx="-4.700" cy="5.600" r="4.500" fill="#fff"/><path d="M-9 7l-1.800 .700"/></g>
<g transform="translate(1329.6 88.8)" fill="none" stroke="#313743" stroke-width="1.45" stroke-linecap="round" stroke-linejoin="round"><path d="M-9.600 -3.500L9.700 -8.200M-9.600 8.100L9.700 3.400"/><path d="M-9.600 2.200L9.700 -2.500" stroke-dasharray="2.400 1.700" stroke-width="1.300" stroke-linecap="butt"/></g>
<g transform="translate(1369.8 89.0)" fill="none" stroke="#313743" stroke-width="1.45" stroke-linecap="round" stroke-linejoin="round"><path d="M-9.650 -7.200H9.650M-9.650 -3.700H9.650M-9.650 -0.600H9.650M-9.650 7.400H9.650"/><path d="M-8 5.300L7.500 2" stroke-dasharray="2.400 1.700" stroke-width="1.300" stroke-linecap="butt"/></g>
<g transform="translate(1409.3 89.0)" fill="none" stroke="#313743" stroke-width="1.45" stroke-linecap="round" stroke-linejoin="round"><path d="M-9.600 2.300H9.600M-9.600 6.200H9.600M-9.600 9.900H9.600"/><path d="M-9.600 0.100V-5.300a3.100 3.100 0 0 1 3.100 -3.100L2.900 -10" stroke-dasharray="2.200 1.800" stroke-width="1.300" stroke-linecap="butt"/></g>
<g transform="translate(1449.0 89.0)" fill="none" stroke="#313743" stroke-width="1.6" stroke-linecap="round" stroke-linejoin="round"><path d="M-9.700 -5.900V-6.900a1.200 1.200 0 0 1 1.200 -1.200H6.800a1.200 1.200 0 0 1 1.200 1.200V-5.900M-0.900 -8.100V8.800M-4 8.800H2.800"/><path d="M4.900 4.600H10M4.900 6.900H10M4.900 9.200H10" stroke-width="1.300" stroke-linecap="butt"/></g>
<g transform="translate(1488.7 89.0)" fill="none" stroke="#313743" stroke-width="1.45" stroke-linecap="round" stroke-linejoin="round"><path d="M-10.500 -7.400H10.500M-10.500 1.800H10.500M-10.500 7.500H10.500"/><path d="M-7.700 -0.800L7.900 -5.300" stroke-dasharray="2.400 1.700" stroke-width="1.300" stroke-linecap="butt"/></g>
<g transform="translate(1528.2 89.0)" fill="none" stroke="#313743" stroke-width="1.45" stroke-linecap="round" stroke-linejoin="round"><path d="M-10.500 -7.400H10.500M-10.500 -1.650H10.500M-10.500 7.500H10.500"/><path d="M-7.700 0.750L7.900 5.600" stroke-dasharray="2.400 1.700" stroke-width="1.300" stroke-linecap="butt"/></g>
<g transform="translate(1568.0 89.0)" fill="none" stroke="#313743" stroke-width="1.6" stroke-linecap="round" stroke-linejoin="round"><path d="M-8.900 8.800L3 -3"/><path d="M8.800 -8.900L-2.200 -4.250L2.200 -2.300L5.100 2.500Z" fill="#313743" stroke-width="1"/></g>
<g transform="translate(1607.5 89.0)" fill="none" stroke="#313743" stroke-width="1.45" stroke-linecap="round" stroke-linejoin="round"><path d="M-13 6.200L-4.700 -1.650L2.100 5.100L12.800 -6.300M8.300 -6.500H13V-2.200"/></g>
<g transform="translate(1647.1 88.9)" fill="none" stroke="#313743" stroke-width="1.6" stroke-linecap="round" stroke-linejoin="round"><circle cx="0" cy="0" r="10.200"/></g>
<g transform="translate(1686.7 88.9)" fill="none" stroke="#313743" stroke-width="1.7" stroke-linecap="round" stroke-linejoin="round"><path d="M-10.800 0H10.900M-10.800 -2.500V2.500"/></g>
<g transform="translate(1726.2 89.0)" fill="none" stroke="#313743" stroke-width="1.6" stroke-linecap="round" stroke-linejoin="round"><path d="M-10.400 2.300L7.300 -7.600M-7 7.900L10.500 -2.200"/></g>
<g transform="translate(1766.0 89.0)" fill="none" stroke="#313743" stroke-width="1.4" stroke-linecap="round" stroke-linejoin="round"><path d="M-11.800 8.250L-8.500 -3.700L-4.300 4.300L-0.200 -10.300L4 4.300L8.500 -3.700L12.100 8.250"/><path d="M-10.200 4.300H10.300" stroke-dasharray="1.800 1.800" stroke-width="1.100" stroke-linecap="butt"/></g>
<g transform="translate(1805.5 89.0)" fill="none" stroke="#313743" stroke-width="1.5" stroke-linecap="round" stroke-linejoin="round"><path d="M-8.500 -8.200H8.500a1.500 1.500 0 0 1 1.500 1.500V4.100a1.500 1.500 0 0 1-1.500 1.500H-0.100L-4.500 9.500L-5.900 5.600H-8.500a1.500 1.500 0 0 1-1.500-1.500V-6.700a1.500 1.500 0 0 1 1.500-1.500Z"/></g>
<text x="1805.6" y="91.200" font-family="Liberation Sans, sans-serif" font-size="9.500" font-weight="bold" fill="#313743" text-anchor="middle">$</text>
<g transform="translate(1845.1 89.0)" fill="none" stroke="#313743" stroke-width="1.5" stroke-linecap="round" stroke-linejoin="round"><rect x="-10.200" y="-8.200" width="20.400" height="13.800" rx="1.500"/><path d="M0.100 5.600V10.300"/></g>
<text x="1845.1" y="91.200" font-family="Liberation Sans, sans-serif" font-size="9.500" font-weight="bold" fill="#313743" text-anchor="middle">$</text>
</svg>
<div class="t" style="left:22px;top:24px;font-size:13px">Charts</div>
<div class="sep" style="left:127.0px"></div>
<div class="sep" style="left:178.5px"></div>
<div class="sep" style="left:650.0px"></div>
<div class="sep" style="left:1143.0px"></div>
<div class="sep" style="left:1187.5px"></div>
<div class="sep" style="left:1231.0px"></div>
<div class="sep" style="left:1275.5px"></div>
<div class="sep" style="left:1348.0px"></div>
<div class="sep" style="left:1438.0px"></div>
<div class="t c tf" style="left:203.5px">M1</div>
<div class="t c tf" style="left:235.5px">M5</div>
<div class="t c tf" style="left:271.0px">M10</div>
<div class="t c tf" style="left:310.0px">M15</div>
<div class="t c tf" style="left:344.5px;color:#1fd3a6">H1</div>
<div class="t c tf" style="left:374.0px">H2</div>
<div class="t c tf" style="left:405.0px">H4</div>
<div class="t c tf" style="left:437.0px">H6</div>
<div class="t c tf" style="left:468.5px">H8</div>
<div class="t c tf" style="left:503.0px">H12</div>
<div class="t c tf" style="left:536.0px">D1</div>
<div class="t c tf" style="left:566.5px">W1</div>
<div class="t c tf" style="left:603.0px">MN1</div>
<div class="t tf" style="left:689px">Indicators</div>
<div class="t c tf" style="left:784.5px">MA</div>
<div class="t c tf" style="left:834.5px">Bollinger</div>
<div class="t c tf" style="left:892.5px">MACD</div>
<div class="t c tf" style="left:935.0px">RSI</div>
<div class="t c tf" style="left:970.5px">ATR</div>
<div class="t c tf" style="left:1013.5px">Stoch</div>
<div class="t c tf" style="left:1055.5px">MFI</div>
<div class="t c tf" style="left:1105.5px">Volumes</div>
<div class="t tf" style="left:1387px">Replay</div>
<div class="t tf" style="left:1477px;color:#c9ccd1">New Order</div>
<div style="position:absolute;left:56.100px;top:65.600px;width:16.100px;height:16.100px;border-radius:9px;background:#15cf9f"></div>
<div class="t" style="left:58.700px;top:70px;font-size:8.500px;font-weight:bold;color:#053d2c;letter-spacing:-0.3px">FB</div>
<div class="t" style="left:76px;top:66.500px;font-size:13.700px">Gold vs US Dollar, H1, Unadjusted</div>
<div style="position:absolute;left:289px;top:68.500px;width:9px;height:9px;border-radius:5px;background:#14d1a3"></div>
<div class="t" style="left:307.0px;top:67.500px;font-size:11.600px">O = <span style="color:#13c48d">4988.00</span></div>
<div class="t" style="left:381.0px;top:67.500px;font-size:11.600px">H = <span style="color:#13c48d">4994.67</span></div>
<div class="t" style="left:454.0px;top:67.500px;font-size:11.600px">L = <span style="color:#13c48d">4987.92</span></div>
<div class="t" style="left:526.0px;top:67.500px;font-size:11.600px">C = <span style="color:#13c48d">4992.48</span></div>
<div class="t" style="left:598.0px;top:67.500px;font-size:11.600px">V <span style="color:#13c48d">2.62K</span></div>
<div class="t" style="left:648px;top:67.500px;font-size:11.600px;color:#13c48d">+4.42 (+0.09%)</div>
<div class="btn" style="left:936.3px;top:922.700px"></div>
<div class="btn" style="left:972.3px;top:922.700px"></div>
<div class="btn" style="left:1008.3px;top:922.700px"></div>
<div class="btn" style="left:1826.3px;top:922.700px"></div>
<svg width="1920" height="1046" viewBox="0 0 1920 1046">
<g transform="translate(947.3 932.5)" fill="none" stroke="#313743" stroke-width="1.4" stroke-linecap="round" stroke-linejoin="round"><path d="M-5 0H5M0 -5V5"/></g>
<g transform="translate(983.3 932.5)" fill="none" stroke="#313743" stroke-width="1.4" stroke-linecap="round" stroke-linejoin="round"><path d="M-5 0H5"/></g>
<g transform="translate(1019.3 932.5)" fill="none" stroke="#313743" stroke-width="1.3" stroke-linecap="round" stroke-linejoin="round"><path d="M-5.800 0A5.800 5.800 0 1 1 -2.900 5M-8.300 -2.300L-5.800 0.400L-3.100 -2.300"/></g>
<g transform="translate(1837.3 932.5)" fill="none" stroke="#313743" stroke-width="1.5" stroke-linecap="round" stroke-linejoin="round"><path d="M-2.500 -5L2.500 0L-2.500 5"/></g>
<g transform="translate(1891.0 988.0)" fill="none" stroke="#313743" stroke-width="1.2" stroke-linecap="round" stroke-linejoin="round"><path d="M6.35 -0.83L6.35 0.83L4.83 1.30L4.33 2.50L5.07 3.90L3.90 5.07L2.50 4.33L1.30 4.83L0.83 6.35L-0.83 6.35L-1.30 4.83L-2.50 4.33L-3.90 5.07L-5.07 3.90L-4.33 2.50L-4.83 1.30L-6.35 0.83L-6.35 -0.83L-4.83 -1.30L-4.33 -2.50L-5.07 -3.90L-3.90 -5.07L-2.50 -4.33L-1.30 -4.83L-0.83 -6.35L0.83 -6.35L1.30 -4.83L2.50 -4.33L3.90 -5.07L5.07 -3.90L4.33 -2.50L4.83 -1.30Z"/><circle cx="0" cy="0" r="2.100"/></g>
</svg>
<div style="position:absolute;left:9.200px;top:1001.200px;width:31.900px;height:31.800px;border-radius:3.500px;background:#19d6a8"></div>
<div style="position:absolute;left:50px;top:1002.800px;width:1863px;height:35.400px;border-radius:7px;background:#f5f5f5"></div>
<div style="position:absolute;left:369px;top:1007px;width:159px;height:28px;border-radius:5px;background:#fff;box-shadow:0 1px 3px rgba(0,0,0,.08)"></div>
<svg width="1920" height="1046" viewBox="0 0 1920 1046">
<g transform="translate(25.1 1017.7)" fill="none" stroke="#0b5645" stroke-width="1.8" stroke-linecap="round" stroke-linejoin="round"><path d="M0.00 -9.50L3.23 -4.45L9.04 -2.94L5.23 1.70L5.58 7.69L0.00 5.50L-5.58 7.69L-5.23 1.70L-9.04 -2.94L-3.23 -4.45Z"/></g>
<path d="M189.5 1018.2l7 7M196.5 1018.2l-7 7" stroke="#6b7079" stroke-width="1.100" fill="none"/>
<path d="M210.7 1013V1029" stroke="#dcdcdc" stroke-width="1"/>
<path d="M348.0 1018.2l7 7M355.0 1018.2l-7 7" stroke="#6b7079" stroke-width="1.100" fill="none"/>
<path d="M506.5 1018.2l7 7M513.5 1018.2l-7 7" stroke="#6b7079" stroke-width="1.100" fill="none"/>
<path d="M665.0 1018.2l7 7M672.0 1018.2l-7 7" stroke="#6b7079" stroke-width="1.100" fill="none"/>
<path d="M686.2 1013V1029" stroke="#dcdcdc" stroke-width="1"/>
<path d="M823.5 1018.2l7 7M830.5 1018.2l-7 7" stroke="#6b7079" stroke-width="1.100" fill="none"/>
<path d="M844.7 1013V1029" stroke="#dcdcdc" stroke-width="1"/>
<path d="M982.0 1018.2l7 7M989.0 1018.2l-7 7" stroke="#6b7079" stroke-width="1.100" fill="none"/>
<path d="M1003.2 1013V1029" stroke="#dcdcdc" stroke-width="1"/>
<path d="M1140.5 1018.2l7 7M1147.5 1018.2l-7 7" stroke="#6b7079" stroke-width="1.100" fill="none"/>
<path d="M1161.7 1013V1029" stroke="#dcdcdc" stroke-width="1"/>
<path d="M1299.0 1018.2l7 7M1306.0 1018.2l-7 7" stroke="#6b7079" stroke-width="1.100" fill="none"/>
<path d="M1320.2 1013V1029" stroke="#dcdcdc" stroke-width="1"/>
<path d="M1457.5 1018.2l7 7M1464.5 1018.2l-7 7" stroke="#6b7079" stroke-width="1.100" fill="none"/>
<path d="M1478.7 1013V1029" stroke="#dcdcdc" stroke-width="1"/>
<path d="M1616.0 1018.2l7 7M1623.0 1018.2l-7 7" stroke="#6b7079" stroke-width="1.100" fill="none"/>
<path d="M1637.2 1013V1029" stroke="#dcdcdc" stroke-width="1"/>
<path d="M1773.0 1018.2l7 7M1780.0 1018.2l-7 7" stroke="#6b7079" stroke-width="1.100" fill="none"/>
<g transform="translate(1797.5 1021.0)" fill="none" stroke="#313743" stroke-width="1.5" stroke-linecap="round" stroke-linejoin="round"><path d="M-5.500 0H5.500M0 -5.500V5.500"/></g>
<g transform="translate(1829.5 1021.0)" fill="none" stroke="#313743" stroke-width="1.5" stroke-linecap="round" stroke-linejoin="round"><rect x="-7.500" y="-5.500" width="15" height="11" rx="1.800"/><path d="M-0.500 -5.500V5.500M-0.500 0H7.500"/></g>
<g transform="translate(1862.5 1021.0)" fill="none" stroke="#313743" stroke-width="1.5" stroke-linecap="round" stroke-linejoin="round"><rect x="-6" y="-3.800" width="12" height="7.600" rx="1.500"/></g>
<g transform="translate(1894.5 1021.0)" fill="none" stroke="#313743" stroke-width="1.6" stroke-linecap="round" stroke-linejoin="round"><path d="M-6.500 -2V-4a2 2 0 0 1 2-2H-2.500M2.500 -6H4.500a2 2 0 0 1 2 2V-2M6.500 2V4a2 2 0 0 1-2 2H2.500M-2.500 6H-4.500a2 2 0 0 1-2-2V2"/></g>
</svg>
<div class="tab" style="left:63.0px;font-size:12.400px;">XAGUSD, H6</div>
<div class="tab" style="left:221.5px;">US Dollar I... , H8</div>
<div class="tab" style="left:380.0px;font-weight:bold;font-size:12.700px;">XAUUSD, H1</div>
<div class="tab" style="left:538.5px;font-size:12.400px;">COPPER, H6</div>
<div class="tab" style="left:697.0px;font-size:12.400px;">EURUSD, H4</div>
<div class="tab" style="left:855.5px;font-size:12.400px;">GBPUSD, H4</div>
<div class="tab" style="left:1014.0px;font-size:12.400px;">USDCAD, H8</div>
<div class="tab" style="left:1172.5px;font-size:12.400px;">BTCUSD, H6</div>
<div class="tab" style="left:1331.0px;font-size:12.400px;">NZDUSD, H8</div>
<div class="tab" style="left:1489.5px;font-size:12.400px;">USDJPY, H2</div>
<div class="tab" style="left:1648.0px;font-size:12.400px;">WTI, H12</div>
</body></html>
